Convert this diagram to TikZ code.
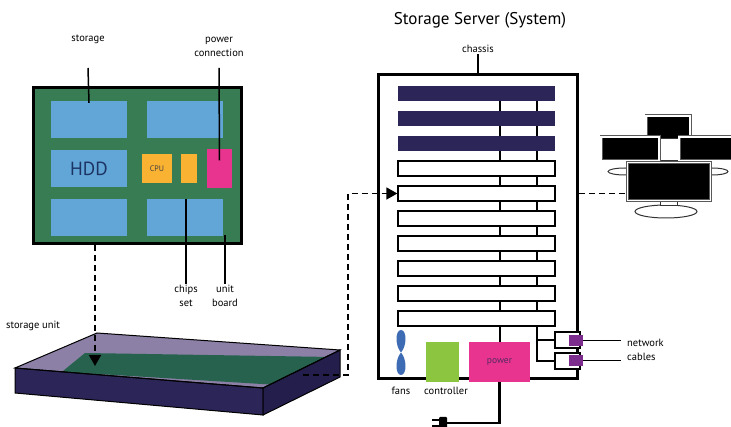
\documentclass[tikz,border=0pt]{standalone}
\usepackage{fontspec}
\setmainfont{PT Sans}
\usetikzlibrary{positioning,arrows.meta}

\definecolor{boardgreen}{RGB}{56,124,84}
\definecolor{bayblue}{RGB}{98,166,216}
\definecolor{chiporange}{RGB}{250,178,50}
\definecolor{plugpink}{RGB}{232,52,142}
\definecolor{racknavy}{RGB}{44,38,88}
\definecolor{traytop}{RGB}{140,128,166}
\definecolor{traygreen}{RGB}{38,98,78}
\definecolor{trayside}{RGB}{36,30,76}
\definecolor{portpurple}{RGB}{123,44,140}
\definecolor{ctrlgreen}{RGB}{140,198,64}
\definecolor{fanblue}{RGB}{62,108,180}
\definecolor{hddtext}{RGB}{28,52,100}

\begin{document}
\begin{tikzpicture}[x=1pt, y=-1pt]
      \tikzstyle{lbl}=[font=\fontsize{10.5}{14}\selectfont, align=center, inner sep=1pt]
      \tikzstyle{lead}=[line width=1.5pt]
      \tikzstyle{bus}=[line width=2.6pt]
      \tikzstyle{link}=[dash pattern=on 6pt off 4pt, line width=1.6pt]
      \tikzstyle{drop}=[-{Triangle[width=12pt,length=11pt]}]
      \tikzstyle{bay}=[rectangle, fill=bayblue, minimum width=76pt, minimum height=37pt, inner sep=0pt]
      \tikzstyle{chip}=[rectangle, fill=chiporange, minimum height=29pt, inner sep=0pt]
      \tikzstyle{slot}=[rectangle, minimum width=157pt, minimum height=15pt, inner sep=0pt]
      \tikzstyle{port}=[rectangle, draw, fill=white, line width=1.3pt, minimum width=25pt, minimum height=16pt, inner sep=0pt]
      \tikzstyle{jack}=[rectangle, fill=portpurple, minimum width=14pt, minimum height=11pt, inner sep=0pt]
      \tikzstyle{screen}=[rectangle, fill=black, draw=black!65, double=white, double distance=1.4pt, line width=0.8pt, inner sep=0pt]
      \tikzstyle{stand}=[fill=white, draw=black!80, line width=1pt]

      \useasboundingbox (0,0) rectangle (731,427);

      % storage unit board
      \node[draw, line width=3pt, fill=boardgreen, minimum width=208pt, minimum height=156pt] (board) at (137.5,166) {};
      \node[bay] (bay1) at (89,119.5) {};
      \node[bay] (bay2) [right=20pt of bay1] {};
      \node[bay, font=\fontsize{19}{20}\selectfont, text=hddtext] (hdd) [below=12pt of bay1] {HDD};
      \node[bay] (bay3) [below=11pt of hdd] {};
      \node[bay] (bay4) [right=20pt of bay3] {};
      \node[chip, minimum width=30pt, font=\fontsize{8}{9}\selectfont, text=black!75] (cpu) at (157,168.5) {CPU};
      \node[chip, minimum width=16pt] (chipset) [right=9pt of cpu] {};
      \node[rectangle, fill=plugpink, minimum width=25pt, minimum height=39pt, inner sep=0pt] (pwrin) at (219.5,168.5) {};

      \node[lbl] (lstorage) at (88,39) {storage};
      \node[lbl] (lpower) at (219,46.5) {power\\connection};
      \node[lbl] (lchips) at (186,295.5) {chips\\set};
      \node[lbl] (lboard) at (225,295.5) {unit\\board};
      \coordinate (boardtap) at (225,235);

      \draw[lead] ([yshift=-29pt]lstorage.center) -- ([yshift=-2pt]bay1.north);
      \draw[lead] ([yshift=-21.5pt]lpower.center) -- ([yshift=8pt]pwrin.center);
      \draw[lead] (lchips.north) -- (lchips |- bay4.north);
      \draw[lead] (lboard.north) -- (boardtap);

      % tray
      \node[lbl, anchor=west] (lunit) at (5,326) {storage unit};
      \coordinate (tbl) at (97,333);
      \coordinate (tbr) at (340,350);
      \coordinate (tfr) at (263,388);
      \coordinate (tfl) at (15,368);
      \fill[traytop] (tbl) -- (tbr) -- (tfr) -- (tfl) -- cycle;
      \fill[traygreen] (85,353) -- (332,357) -- (270,384.5) -- (62,371.8) -- cycle;
      \filldraw[fill=racknavy, draw=black, line width=1pt] (tfl) -- (tfr) -- (263,415) -- (15,393) -- cycle;
      \filldraw[fill=trayside, draw=black, line width=1pt] (tfr) -- (tbr) -- (340,377) -- (263,415) -- cycle;
      \draw[line width=1pt] (tbl) -- (tbr) -- (tfr) -- (tfl) -- cycle;

      \coordinate (traydrop) at (95,366);
      \coordinate (trayport) at (303,375);
      \draw[link, drop] (board.south -| traydrop) -- (traydrop);

      % server
      \node[font=\fontsize{17}{19}\selectfont] (title) at (480,20) {Storage Server (System)};
      \node[draw, line width=3pt, minimum width=199pt, minimum height=304pt] (chassis) at (478,226.5) {};
      \node[lbl] (lchassis) at (478,49) {chassis};
      \draw[line width=2pt] (lchassis.south) -- (lchassis.south |- chassis.north);

      \node[rectangle, fill=ctrlgreen, minimum width=33pt, minimum height=40pt] (ctrl) at (442.5,362) {};
      \node[rectangle, fill=plugpink, minimum width=61pt, minimum height=40pt, font=\fontsize{9.5}{10}\selectfont, text=racknavy!80!plugpink] (power) at (499.5,362) {power};
      \node[port] (port1) at (567.5,340) {};
      \node[port] (port2) at (567.5,361) {};

      \coordinate (bus1) at (500,94);
      \coordinate (bus2) at (537,94);
      \draw[bus] (bus1) -- (bus1 |- power.north);
      \draw[bus] (bus2) |- (port2.west);
      \draw[line width=2pt] (bus2 |- port1.west) -- (port1.west);

      \foreach \i in {0,1,2}
        \node[slot, fill=racknavy] (slot\i) at (476.5,93.5+25*\i) {};
      \foreach \i in {3,...,9}
        \node[slot, draw, fill=white, line width=1.3pt] (slot\i) at (476.5,93.5+25*\i) {};

      \node[jack] (jack1) at (576,340.5) {};
      \node[jack] (jack2) at (576,360.5) {};

      % fan blades
      \coordinate (fanhub) at (401,352.5);
      \fill[fanblue] (fanhub) .. controls (395,346) and (395,330) .. (401,330) .. controls (407,330) and (407,346) .. (fanhub);
      \fill[fanblue] (fanhub) .. controls (395,359) and (395,375) .. (401,375) .. controls (407,375) and (407,359) .. (fanhub);
      \node[lbl] (lfans) at (401,391) {fans};
      \node[lbl] (lctrl) at (446,391) {controller};

      \node[lbl, align=left, anchor=west, inner xsep=6pt] (lnet) at (621,349.5) {network\\cables};
      \draw[lead] (jack1.east) -- (jack1 -| lnet.west);
      \draw[lead] (jack2.east) -- (jack2 -| lnet.west);

      % mains lead
      \node[rectangle, fill=black, minimum width=8pt, minimum height=12pt, inner sep=0pt, rounded corners=1pt] (plug) at (443,423) {};
      \draw[bus] (power.south) |- (plug.east);
      \draw[line width=1.8pt] ([yshift=3pt]plug.west) -- ++(-7,0);
      \draw[line width=1.8pt] ([yshift=-3pt]plug.west) -- ++(-7,0);

      \draw[link, drop] (trayport) -- ++(45,0) |- (slot4.west);

      % workstations
      \node[screen, minimum width=44pt, minimum height=24pt] (mback) at (668,128) {};
      \filldraw[stand] (660,139) rectangle (679,161);
      \filldraw[stand] (625,171.5) ellipse (17pt and 3.5pt);
      \filldraw[stand] (712,171.5) ellipse (16pt and 3.5pt);
      \node[screen, minimum width=58pt, minimum height=24pt] (mleft) at (630,149) {};
      \node[screen, minimum width=62pt, minimum height=24pt] (mright) at (710,149) {};
      \filldraw[stand] (666,211.5) ellipse (31pt and 6.5pt);
      \filldraw[stand] (660,200) rectangle (677,206);
      \node[screen, minimum width=83pt, minimum height=38pt] (mfront) at (669,181.5) {};

      \draw[link] (chassis.east |- slot4) -- (slot4 -| mfront.west);
\end{tikzpicture}
\end{document}
